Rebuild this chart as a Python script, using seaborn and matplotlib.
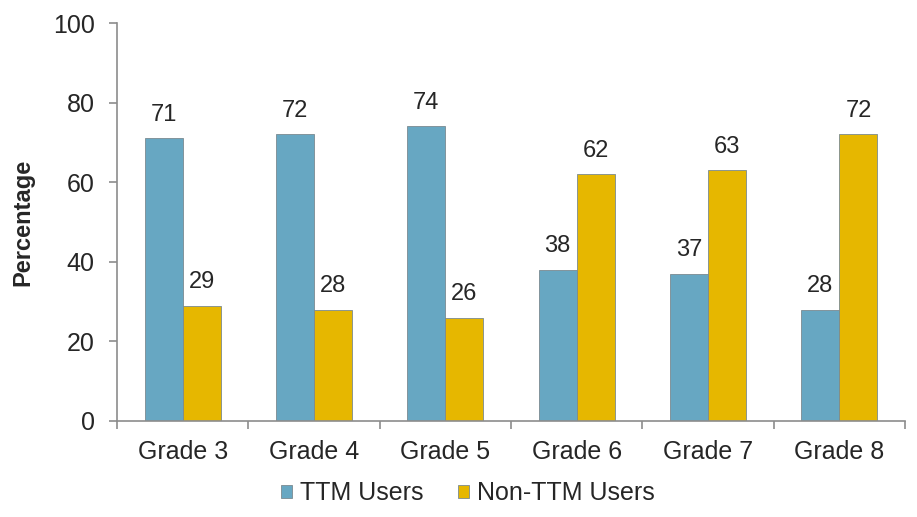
import numpy as np
import pandas as pd
import matplotlib
matplotlib.use("Agg")
import matplotlib.pyplot as plt
from matplotlib.ticker import FixedLocator
import seaborn as sns

grades = ["Grade 3", "Grade 4", "Grade 5", "Grade 6", "Grade 7", "Grade 8"]
ttm_users = [71, 72, 74, 38, 37, 28]
non_ttm_users = [29, 28, 26, 62, 63, 72]
series = ["TTM Users", "Non-TTM Users"]
colors = ["#67a7c2", "#e6b700"]


def main():
    df = pd.DataFrame({
        "Grade": grades * 2,
        "Group": [series[0]] * len(grades) + [series[1]] * len(grades),
        "Percentage": ttm_users + non_ttm_users,
    })

    sns.set_style("white")
    plt.rcParams["font.family"] = ["Liberation Sans", "DejaVu Sans"]

    fig = plt.figure(figsize=(9.17, 5.17), dpi=100)
    ax = fig.add_axes([0.1276, 0.1857, 0.8594, 0.7698])

    sns.barplot(data=df, x="Grade", y="Percentage", hue="Group",
                palette=colors, width=0.58, gap=0, saturation=1,
                edgecolor="#7a8a90", linewidth=0.6, ax=ax)

    for cont in ax.containers:
        ax.bar_label(cont, fmt="%d", padding=9, fontsize=17)

    ax.set_ylim(0, 100)
    ax.set_xlim(-0.5, len(grades) - 0.5)
    ax.set_yticks(np.arange(0, 101, 20))
    ax.set_xlabel("")
    ax.set_ylabel("Percentage", fontsize=17, fontweight="bold", labelpad=13)

    for s in ["top", "right"]:
        ax.spines[s].set_visible(False)
    for s in ["left", "bottom"]:
        ax.spines[s].set_color("#8c8c8c")
        ax.spines[s].set_linewidth(1.2)

    ax.tick_params(axis="y", which="major", direction="out", length=6,
                   color="#8c8c8c", width=1.2, labelsize=18, pad=10, left=True)
    ax.tick_params(axis="x", which="major", length=0, labelsize=18, pad=14)
    ax.xaxis.set_minor_locator(FixedLocator(np.arange(-0.5, len(grades), 1.0)))
    ax.tick_params(axis="x", which="minor", direction="out", length=6,
                   color="#8c8c8c", width=1.2, bottom=True)

    handles, labels = ax.get_legend_handles_labels()
    ax.legend(handles, labels, loc="upper center", bbox_to_anchor=(0.445, -0.095),
              ncol=2, frameon=False, fontsize=18, handlelength=0.45,
              handleheight=0.45, handletextpad=0.3, columnspacing=1.4)

    fig.savefig("out.png", dpi=100)


if __name__ == "__main__":
    main()
